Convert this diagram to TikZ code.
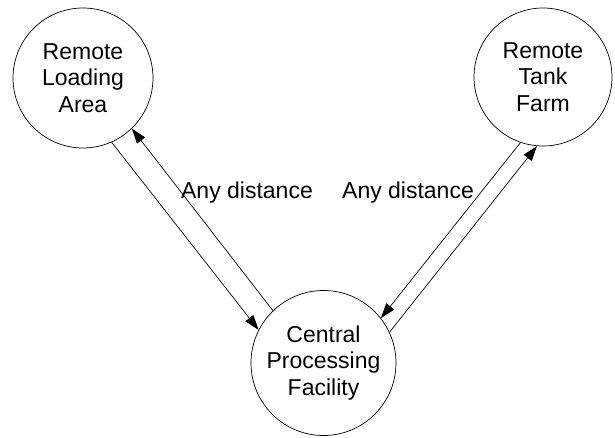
\documentclass[tikz,border=0pt]{standalone}
\usepackage{fontspec}
\setmainfont{Liberation Sans}
\usetikzlibrary{arrows.meta}
\begin{document}
\begin{tikzpicture}[x=1pt,y=-1pt,
  site/.style={draw,circle,line width=0.7pt,inner sep=0pt,align=center,
    font=\fontsize{23}{26.5}\selectfont},
  flow/.style={draw,line width=0.7pt,-{Triangle[length=15pt,width=10pt]}},
  lbl/.style={font=\fontsize{23}{26.5}\selectfont,inner sep=0pt}]
\useasboundingbox (0,0) rectangle (615,437);
\node[site,minimum size=140pt] (load) at (83,78) {Remote\\Loading\\Area};
\node[site,minimum size=138pt] (tank) at (543,77) {Remote\\Tank\\Farm};
\node[site,minimum size=145pt] (cpf) at (323.5,363) {Central\\Processing\\Facility};
% left pair of flows
\draw[flow] (load.-66) -- (cpf.153);
\draw[flow] (cpf.134) -- (load.-46);
% right pair of flows
\draw[flow] (tank.-109) -- (cpf.38);
\draw[flow] (cpf.25) -- (tank.-95);
\node[lbl] (dl) at (247,193) {Any distance};
\node[lbl] (dr) at (408,193) {Any distance};
\end{tikzpicture}
\end{document}
